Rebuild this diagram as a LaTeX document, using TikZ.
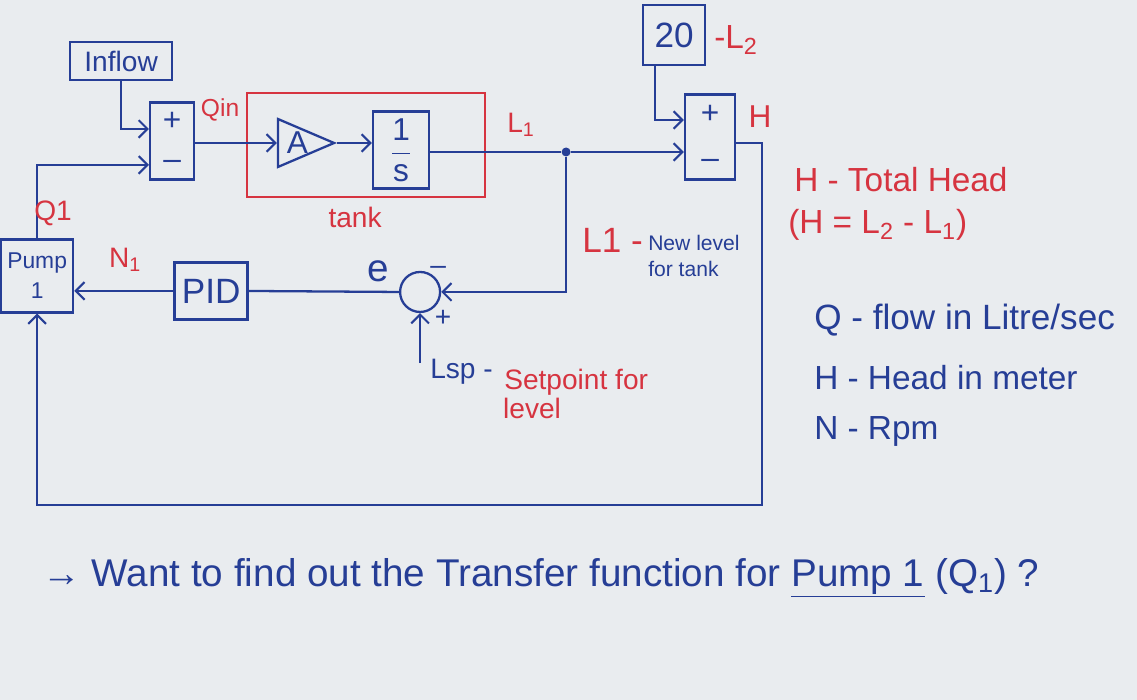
\documentclass[tikz,border=0pt]{standalone}
\usepackage{fontspec}
\setmainfont{Liberation Sans}
\usetikzlibrary{arrows.meta, shapes.geometric}

% --- DEFINICIÓN DE COLORES ---
\definecolor{tinta}{RGB}{38, 62, 150}
\definecolor{rojo}{RGB}{214, 52, 64}
\definecolor{papel}{RGB}{233, 236, 239}

\begin{document}
\begin{tikzpicture}[
    x=0.02cm, y=-0.02cm,
    every node/.style={font=\fontsize{16}{19}\selectfont, text=tinta},
    % Estilo para los bloques (cajas azules)
    bloque/.style={draw=tinta, line width=1.3pt, inner sep=0pt, align=center},
    % Estilo para los sumadores rectangulares
    sumador/.style={bloque, font=\fontsize{18}{20}\selectfont},
    % Estilo para la ganancia A
    triangulo/.style={
        bloque, isosceles triangle, isosceles triangle stretches,
        minimum width=0.96cm, minimum height=1.1cm,
        font=\fontsize{18}{20}\selectfont
    },
    % Estilo para las señales con flecha
    senal/.style={
        draw=tinta, line width=1.3pt,
        -{Straight Barb[length=5pt, width=10pt, line width=1.2pt]}
    },
    % Estilo para las líneas sin flecha
    linea/.style={draw=tinta, line width=1.3pt},
    etiquetaRoja/.style={text=rojo},
    notaGrande/.style={font=\fontsize{19}{22}\selectfont, anchor=west}
]
    % --- FONDO (PAPEL) ---
    \fill[papel] (0,0) rectangle (1137,700);

    % 1. BLOQUES
    \node[bloque, minimum width=2.04cm, minimum height=0.76cm] (inflow) at (121,61) {Inflow};
    \node[sumador, minimum width=0.88cm, minimum height=1.54cm] (suma1) at (172,141) {+\\[2pt]–};
    \node[triangulo] (ganA) at (293,143) {\hspace{5pt}A};
    \node[bloque, minimum width=1.12cm, minimum height=1.54cm,
        font=\fontsize{18}{20}\selectfont] (integ) at (401,150)
        {$\displaystyle\frac{\textrm{1}}{\textrm{s}}$};
    \node[sumador, minimum width=1.0cm, minimum height=1.7cm] (suma2) at (710,137) {+\\[6pt]–};
    \node[bloque, minimum width=1.24cm, minimum height=1.2cm,
        font=\fontsize{20}{22}\selectfont] (caja20) at (674,35) {20};
    \node[bloque, minimum width=1.44cm, minimum height=1.46cm,
        font=\fontsize{13}{17}\selectfont] (bomba) at (37,276) {Pump\\1};
    \node[bloque, minimum width=1.46cm, minimum height=1.14cm,
        font=\fontsize{20}{22}\selectfont] (pid) at (211,291) {PID};
    \node[circle, draw=tinta, line width=1.3pt, minimum size=0.8cm, inner sep=0pt] (comp) at (420,292) {};
    \node[circle, fill=tinta, inner sep=0pt, minimum size=0.18cm] (nudo) at (566,152) {};

    % Puntos auxiliares
    \coordinate (lsp) at ([yshift=-1.0cm]comp.south);
    \coordinate (esqH) at (762,505);

    % 2. MARCO DEL TANQUE
    \draw[rojo, line width=1.1pt] (247,93) rectangle (485,197);

    % 3. CONEXIONES
    \draw[senal] (inflow.south) |- ([yshift=0.24cm]suma1.west);
    \draw[senal] (bomba.north) |- ([yshift=-0.48cm]suma1.west);
    \draw[senal] (suma1.east |- ganA.west) -- (ganA.west);
    \draw[senal] (ganA.apex) -- (integ.west |- ganA.apex);
    \draw[linea] (integ.east |- nudo) -- (nudo);
    \draw[senal] (nudo) -- (nudo -| suma2.west);
    \draw[senal] ([xshift=-0.38cm]caja20.south) |- ([yshift=0.34cm]suma2.west);
    \draw[senal] ([yshift=-0.12cm]suma2.east) -| (esqH) -| (bomba.south);
    \draw[senal] (nudo) |- (comp.east);
    \draw[senal] (lsp) -- (comp.south);
    \draw[linea] (comp.west) -- (pid.east);
    \draw[senal] (pid.west) -- (pid.west -| bomba.east);

    % 4. ETIQUETAS DE SEÑALES
    \node[etiquetaRoja, font=\fontsize{14}{16}\selectfont] (qin) at (220,110) {Qin};
    \node[etiquetaRoja] (l1) at (521,125) {L\textsubscript{1}};
    \node[etiquetaRoja] (tanque) at (355,217) {tank};
    \node[etiquetaRoja] (q1) at (53,213) {Q1};
    \node[etiquetaRoja] (n1) at (125,260) {N\textsubscript{1}};
    \node[font=\fontsize{22}{24}\selectfont] (e) at (378,271) {e};
    \node (menos) at (438,270) {–};
    \node (mas) at (443,318) {+};
    \node[etiquetaRoja, font=\fontsize{18}{20}\selectfont] (h) at (760,117) {H};
    \node[etiquetaRoja, notaGrande] (l2) at (708,40) {-L\textsubscript{2}};

    % 5. NOTAS DEL DIAGRAMA
    \node[etiquetaRoja, font=\fontsize{20}{22}\selectfont, anchor=west] (l1nota) at (576,240) {L1 -};
    \node[anchor=west, align=left, font=\fontsize{12}{15}\selectfont] (nivel) at (642,256) {New level\\for tank};
    \node[anchor=west] (lspT) at (424,372) {Lsp -};
    \node[etiquetaRoja, anchor=west] (setp) at (498,382) {Setpoint for};
    \node[etiquetaRoja] (nivelT) at (532,408) {level};

    % 6. LEYENDA
    \node[etiquetaRoja, notaGrande] (leyH) at (788,180) {H - Total Head};
    \node[etiquetaRoja, notaGrande] (leyHL) at (782,225) {(H = L\textsubscript{2} - L\textsubscript{1})};
    \node[notaGrande, font=\fontsize{20}{22}\selectfont] (leyQ) at (808,320) {Q - flow in Litre/sec};
    \node[notaGrande] (leyH2) at (808,378) {H - Head in meter};
    \node[notaGrande] (leyN) at (808,432) {N - Rpm};

    % 7. PREGUNTA
    \node[anchor=west, font=\fontsize{22}{25}\selectfont] (pregunta) at (36,578)
        {→ Want to find out the Transfer function for \underline{Pump 1} (Q\textsubscript{1}) ?};
\end{tikzpicture}
\end{document}
